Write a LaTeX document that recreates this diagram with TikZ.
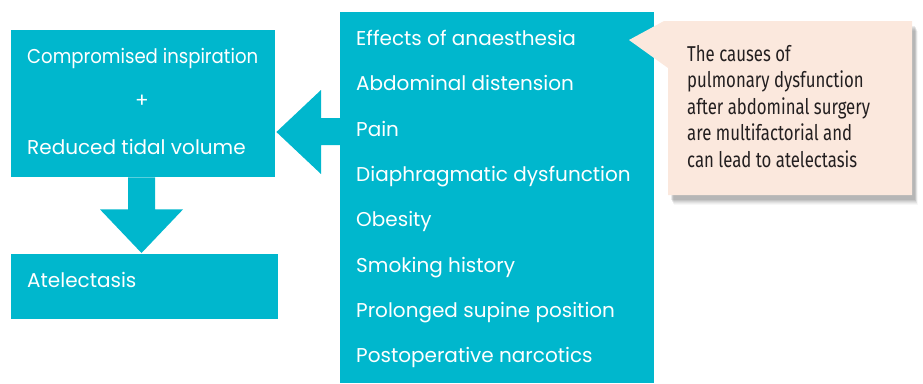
\documentclass[tikz,border=0pt]{standalone}
\usepackage{fontspec}
\setmainfont{Poppins}
\newfontfamily\calloutfont[FakeStretch=0.78]{Fira Sans}
\usetikzlibrary{calc}
\definecolor{tealbox}{HTML}{00B7CD}
\definecolor{peach}{HTML}{FBE8DD}
\definecolor{darktext}{HTML}{231F20}
\begin{document}
\begin{tikzpicture}[x=1pt,y=-1pt,
  box/.style={fill=tealbox, draw=none, inner sep=0pt, anchor=north west},
  item/.style={text=white, font=\fontsize{20}{20}\selectfont, anchor=base west, inner sep=0pt},
  note/.style={text=darktext, font=\calloutfont\fontsize{21.5}{21.5}\selectfont, anchor=base west, inner sep=0pt}]
\useasboundingbox (0,0) rectangle (923,383);
% boxes
\node[box, minimum width=264pt, minimum height=147pt] (comp) at (11,30) {};
\node[box, minimum width=267pt, minimum height=65pt] (atel) at (11,254) {};
\node[box, minimum width=314pt, minimum height=371pt] (causes) at (340,12) {};
% down arrow
\fill[tealbox] ($(comp.south west)+(117,0)$) -- ++(0,32) -- ++(-28,0)
  -- ($(atel.north west)+(130.5,-1)$) -- ($(comp.south west)+(172,32)$)
  -- ++(-28,0) -- ($(comp.south west)+(144,0)$) -- cycle;
% left arrow
\fill[tealbox] ($(causes.north west)+(0,106)$) -- ++(-19,0) -- ++(0,-28)
  -- ($(comp.north east)+(1,102)$) -- ($(causes.north west)+(-19,162)$)
  -- ++(0,-29) -- ($(causes.north west)+(0,133)$) -- cycle;
% texts left
\node[item] (t1) at (27,63) {\scalebox{0.905}[1]{Compromised inspiration}};
\node[item, anchor=center] (tplus) at (142,101) {+};
\node[item] (t2) at (27,154) {Reduced tidal volume};
\node[item] (t3) at (27,287) {Atelectasis};
% list
\node[item] (c1) at (356,45) {Effects of anaesthesia};
\node[item] (c2) at (356,90.5) {Abdominal distension};
\node[item] (c3) at (356,136) {Pain};
\node[item] (c4) at (356,181) {Diaphragmatic dysfunction};
\node[item] (c5) at (356,226.5) {Obesity};
\node[item] (c6) at (356,272) {Smoking history};
\node[item] (c7) at (356,317) {Prolonged supine position};
\node[item] (c8) at (356,362.5) {Postoperative narcotics};
% callout shadow
\foreach \d/\o in {10/0.03,9/0.04,8/0.05,7/0.06,6/0.07,5/0.08}{
  \fill[black, opacity=\o] (668+\d*0.6,21+\d) -- (912+\d*0.6,21+\d) -- (912+\d*0.6,195+\d) -- (668+\d*0.6,195+\d) -- cycle;
}
% callout
\fill[peach] (668,21) -- (912,21) -- (912,195) -- (668,195) -- (668,68) -- (629,40) -- (664,21) -- cycle;
\node[note] (n1) at (687,61) {The causes of};
\node[note] (n2) at (687,87.5) {pulmonary dysfunction};
\node[note] (n3) at (687,114) {after abdominal surgery};
\node[note] (n4) at (687,140.5) {are multifactorial and};
\node[note] (n5) at (687,167) {can lead to atelectasis};
\end{tikzpicture}
\end{document}
